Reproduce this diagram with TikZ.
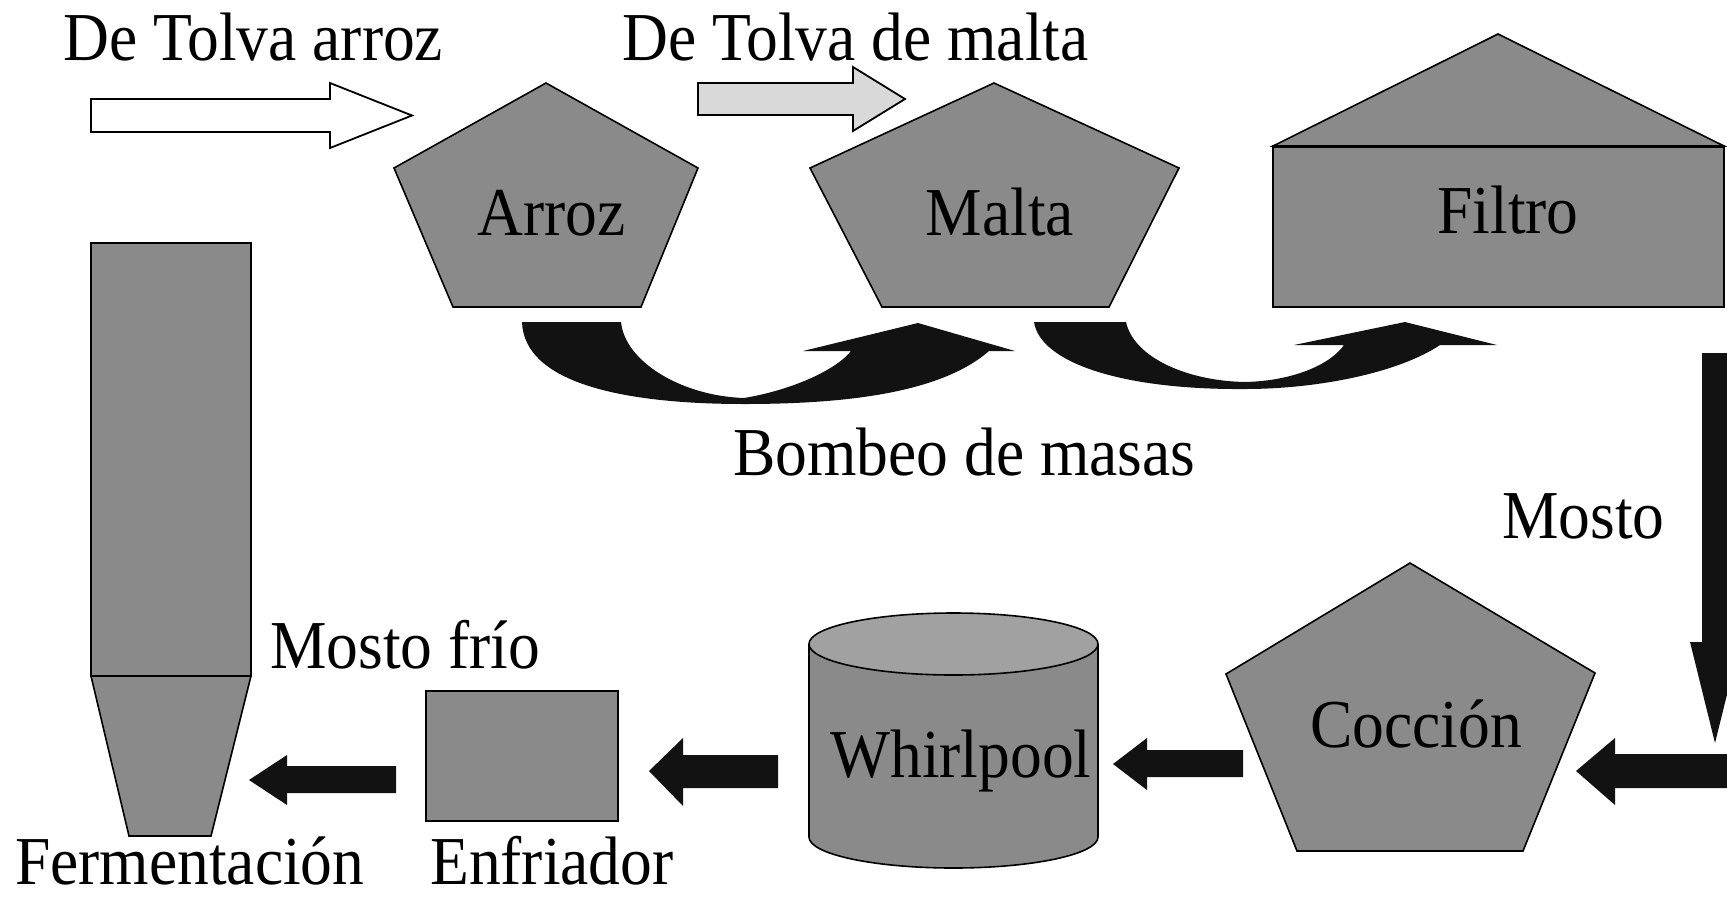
\documentclass[tikz,border=0pt]{standalone}
\usepackage{graphicx}
\usepackage{fontspec}
\setmainfont{Liberation Serif}
\definecolor{shapegray}{gray}{0.54}
\definecolor{topgray}{gray}{0.63}
\definecolor{lightfill}{gray}{0.85}
\definecolor{arrowblack}{gray}{0.07}
\newcommand\tallt[1]{\scalebox{1}[1.08]{#1}}
\tikzset{
  lbl/.style={inner sep=0pt, font=\fontsize{63.5}{70}\selectfont},
  vessel/.style={fill=shapegray, draw=black, line width=1.6pt, line join=miter},
  blockarrow/.style={fill=arrowblack, draw=none},
  feedarrow/.style={draw=black, line width=1.8pt, line join=miter},
}
\begin{document}
\begin{tikzpicture}[x=1pt,y=-1pt]
\useasboundingbox (0,0) rectangle (1727,898);
\clip (0,0) rectangle (1727,898);

% --- top labels and feed arrows
\node[lbl,anchor=base west] (tarroz) at (63,60) {\tallt{De Tolva arroz}};
\node[lbl,anchor=base west] (tmalta) at (622,60) {\tallt{De Tolva de malta}};
\filldraw[feedarrow, fill=white] (91,99) -- (330,99) -- (330,83) -- (412,115.5) -- (330,148) -- (330,132) -- (91,132) -- cycle;
\filldraw[feedarrow, fill=lightfill] (698,83) -- (853,83) -- (853,67) -- (905,99) -- (853,131) -- (853,115) -- (698,115) -- cycle;

% --- Arroz
\filldraw[vessel] (546,83) -- (698,168) -- (641,307) -- (453,307) -- (394,168) -- cycle;
\node[lbl,anchor=base] (arroz) at (551.5,235) {\tallt{Arroz}};

% --- Malta
\filldraw[vessel] (994,83) -- (1179,168) -- (1109,307) -- (882,307) -- (810,168) -- cycle;
\node[lbl,anchor=base] (malta) at (1000,235) {\tallt{Malta}};

% --- Filtro
\filldraw[vessel] (1273,146) rectangle (1724,307);
\filldraw[vessel] (1273,146) -- (1498,34) -- (1724,146) -- cycle;
\draw[line width=3pt] (1273,146) -- (1724,146);
\node[lbl,anchor=base] (filtro) at (1508,233) {\tallt{Filtro}};

% --- curved pumping arrows
\fill[arrowblack] (522,322) -- (621,322)
  .. controls (625,362) and (682,396) .. (744,398)
  .. controls (792,390) and (836,370) .. (851,351)
  -- (803,351) -- (918,323) -- (1015,351) -- (989,351)
  .. controls (942,392) and (850,404) .. (744,404)
  .. controls (620,404) and (524,382) .. (522,322) -- cycle;
\fill[arrowblack] (1034,322) -- (1126,322)
  .. controls (1134,358) and (1188,381) .. (1245,382)
  .. controls (1292,381) and (1330,365) .. (1344,345)
  -- (1294,345) -- (1405,322) -- (1497,345) -- (1440,345)
  .. controls (1400,372) and (1320,389) .. (1245,389)
  .. controls (1120,390) and (1040,362) .. (1034,322) -- cycle;
\node[lbl,anchor=base west] (bombeo) at (733,475) {\tallt{Bombeo de masas}};

% --- Mosto (vertical arrow)
\fill[arrowblack] (1702,353) -- (1728,353) -- (1728,642) -- (1740,642) -- (1715,743) -- (1690,642) -- (1702,642) -- cycle;
\node[lbl,anchor=base west] (mosto) at (1502,538) {\tallt{Mosto}};

% --- Coccion
\filldraw[vessel] (1410,563) -- (1595,673) -- (1523,851) -- (1297,851) -- (1226,674) -- cycle;
\node[lbl,anchor=base] (coccion) at (1416,747) {\tallt{Cocción}};
\fill[arrowblack] (1740,754) -- (1615,754) -- (1615,738) -- (1576,771) -- (1615,805) -- (1615,788) -- (1740,788) -- cycle;

% --- Whirlpool
\fill[arrowblack] (1243,750) -- (1147,750) -- (1147,738) -- (1113,764) -- (1147,790) -- (1147,777) -- (1243,777) -- cycle;
\filldraw[vessel] (953.5,837) ellipse [x radius=144.5, y radius=31];
\fill[shapegray] (809,644) rectangle (1098,837);
\draw[line width=1.6pt] (809,644) -- (809,837) (1098,644) -- (1098,837);
\filldraw[vessel, fill=topgray] (953.5,644) ellipse [x radius=144.5, y radius=31];
\node[lbl,anchor=base] (whirl) at (961,777) {\tallt{Whirlpool}};

% --- Enfriador
\fill[arrowblack] (778,755) -- (683,755) -- (683,738) -- (649,771) -- (683,806) -- (683,788) -- (778,788) -- cycle;
\filldraw[vessel] (426,691) rectangle (618,821);
\node[lbl,anchor=base west] (enfr) at (430,884) {\tallt{Enfriador}};
\node[lbl,anchor=base west] (frio) at (270,668) {\tallt{Mosto frío}};

% --- Fermentacion
\fill[arrowblack] (396,766) -- (287,766) -- (287,755) -- (249,780) -- (287,805) -- (287,793) -- (396,793) -- cycle;
\filldraw[vessel] (91,243) rectangle (251,676);
\filldraw[vessel] (91,676) -- (251,676) -- (211,836) -- (129,836) -- cycle;
\node[lbl,anchor=base west] (ferm) at (15,884) {\tallt{Fermentación}};
\end{tikzpicture}
\end{document}
